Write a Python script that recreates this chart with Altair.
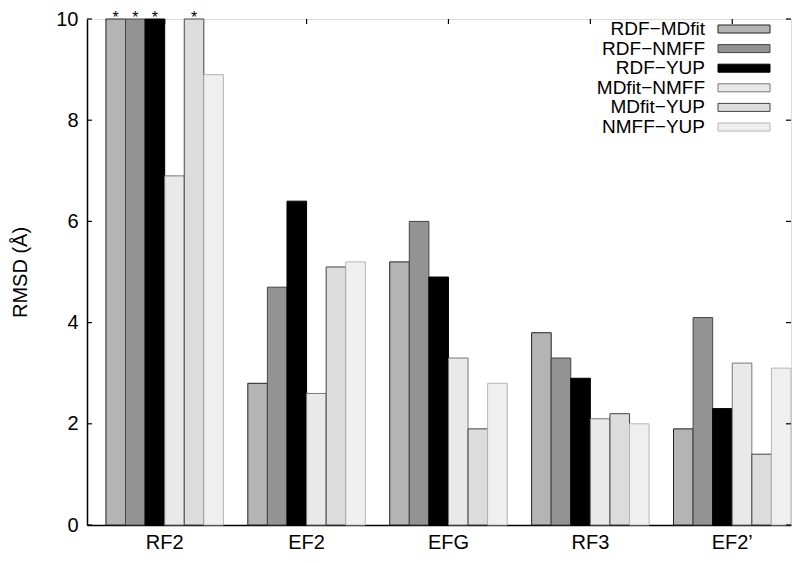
import altair as alt
import pandas as pd

groups = ["RF2", "EF2", "EFG", "RF3", "EF2\u2019"]
series = ["RDF\u2212MDfit", "RDF\u2212NMFF", "RDF\u2212YUP",
          "MDfit\u2212NMFF", "MDfit\u2212YUP", "NMFF\u2212YUP"]

# values per series, in group order (RF2 values beyond the axis are clipped at 10)
rdf_mdfit = [10.0, 2.8, 5.2, 3.8, 1.9]
rdf_nmff = [10.0, 4.7, 6.0, 3.3, 4.1]
rdf_yup = [10.0, 6.4, 4.9, 2.9, 2.3]
mdfit_nmff = [6.9, 2.6, 3.3, 2.1, 3.2]
mdfit_yup = [10.0, 5.1, 1.9, 2.2, 1.4]
nmff_yup = [8.9, 5.2, 2.8, 2.0, 3.1]
# marked with "*" (off the scale)
truncated = [[True, False, False, False, False],
             [True, False, False, False, False],
             [True, False, False, False, False],
             [False, False, False, False, False],
             [True, False, False, False, False],
             [False, False, False, False, False]]

y_ticks = [0, 2, 4, 6, 8, 10]

fills = ["#b4b4b4", "#939393", "#000000", "#e9e9e9", "#dcdcdc", "#efefef"]
strokes = ["#222222", "#444444", "#000000", "#777777", "#444444", "#b5b5b5"]

all_vals = [rdf_mdfit, rdf_nmff, rdf_yup, mdfit_nmff, mdfit_yup, nmff_yup]
rows = []
for s, vals, tr in zip(series, all_vals, truncated):
    for g, v, t in zip(groups, vals, tr):
        rows.append({"group": g, "series": s, "value": v, "star": "*" if t else ""})
df = pd.DataFrame(rows)

FONT = "Liberation Sans"
W, H = 704, 506

color_scale = alt.Scale(domain=series, range=fills)
stroke_scale = alt.Scale(domain=series, range=strokes)
yscale = alt.Scale(domain=[0, 10], nice=False, zero=True)

x_enc = alt.X("group:N", sort=groups,
              scale=alt.Scale(paddingInner=0.172, paddingOuter=0.0667, align=1),
              axis=alt.Axis(title=None, labelAngle=0, labelFontSize=20, labelFont=FONT,
                            labelColor="black", ticks=False, labelPadding=7,
                            domainColor="black", domainWidth=1.5))
xoff = alt.XOffset("series:N", sort=series, scale=alt.Scale(paddingInner=0, paddingOuter=0))

bars = alt.Chart(df).mark_bar(strokeWidth=1, opacity=1).encode(
    x=x_enc,
    xOffset=xoff,
    y=alt.Y("value:Q", scale=yscale,
            axis=alt.Axis(values=y_ticks, title="RMSD (\u00c5)", titleFontSize=20,
                          titleFont=FONT, titleFontWeight="normal", titleColor="black",
                          titleX=-67, titleBaseline="middle",
                          labelFontSize=20, labelFont=FONT, labelColor="black",
                          ticks=False, labelPadding=9, grid=False,
                          domainColor="black", domainWidth=1.5)),
    color=alt.Color("series:N", scale=color_scale, legend=None),
    stroke=alt.Stroke("series:N", scale=stroke_scale, legend=None),
)

stars = alt.Chart(df).transform_filter(alt.datum.star == "*").mark_text(
    fontSize=16, font=FONT, baseline="alphabetic", dy=4, color="black"
).encode(
    x=alt.X("group:N", sort=groups),
    xOffset=xoff,
    y=alt.Y("value:Q", scale=yscale),
    text="star:N",
)

tick_df = pd.DataFrame({"tick": y_ticks})
left_ticks = alt.Chart(tick_df).mark_rule(color="black", strokeWidth=1.2).encode(
    x=alt.value(0), x2=alt.value(5), y=alt.Y("tick:Q", scale=yscale))
right_ticks = alt.Chart(tick_df).mark_rule(color="black", strokeWidth=1.2).encode(
    x=alt.value(W - 5), x2=alt.value(W), y=alt.Y("tick:Q", scale=yscale))

grp_df = pd.DataFrame({"group": groups})
top_ticks = alt.Chart(grp_df).mark_rule(color="black", strokeWidth=1.2).encode(
    x=alt.X("group:N", sort=groups), y=alt.value(0), y2=alt.value(5))

main = alt.layer(bars, stars, left_ticks, right_ticks, top_ticks)

leg_df = pd.DataFrame({"series": series})
leg_y = alt.Y("series:N", sort=series,
              scale=alt.Scale(type="point", range=[10, 108], padding=0), axis=None)
leg_text = alt.Chart(leg_df).mark_text(
    align="right", baseline="middle", fontSize=19, font=FONT, color="black"
).encode(x=alt.value(618), y=leg_y, text="series:N")
leg_sym = alt.Chart(leg_df).mark_tick(
    orient="horizontal", size=52, thickness=8, strokeWidth=1, opacity=1
).encode(
    x=alt.value(657), y=leg_y,
    color=alt.Color("series:N", scale=color_scale, legend=None),
    stroke=alt.Stroke("series:N", scale=stroke_scale, legend=None),
)
legend = alt.layer(leg_text, leg_sym)

chart = alt.layer(main, legend).resolve_scale(y="independent").properties(
    width=W, height=H,
    autosize=alt.AutoSizeParams(type="none"),
    padding={"left": 79, "top": 11, "right": 1, "bottom": 30},
).configure_view(stroke="black", strokeWidth=1.5).configure(background="white")

chart.save("out.html", embed_options={"renderer": "svg", "actions": False})
